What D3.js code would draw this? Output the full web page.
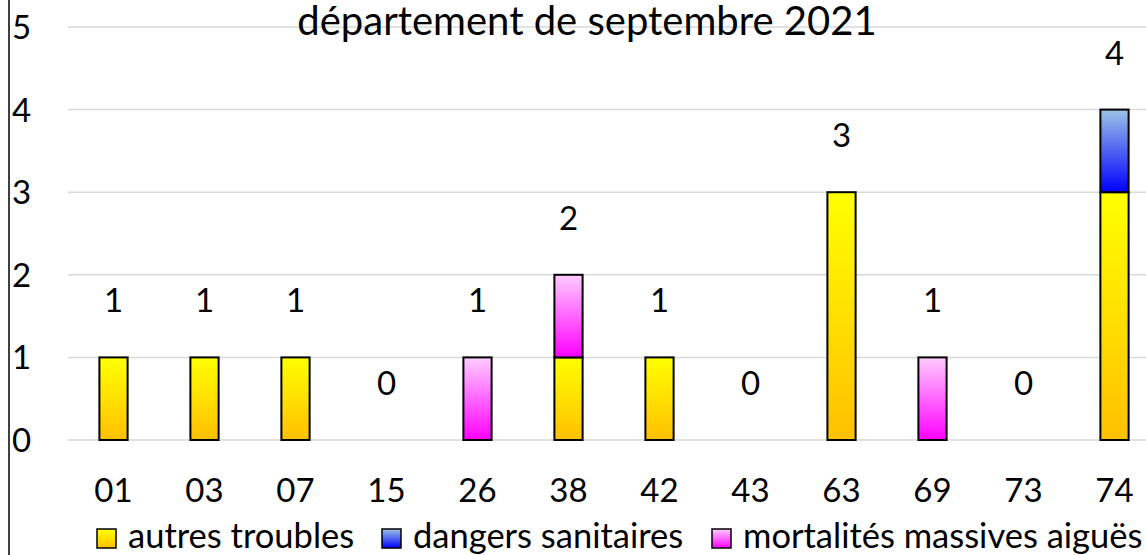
<!DOCTYPE html>
<html>
<head>
<meta charset="utf-8">
<script src="https://cdn.jsdelivr.net/npm/d3@7"></script>
<style>
  body { margin: 0; background: #fff; }
  svg text { font-family: Lato, "Open Sans", sans-serif; fill: #000; }
</style>
</head>
<body>
<svg id="chart" width="1146" height="555"></svg>
<script>
// departements
var departements = ["01", "03", "07", "15", "26", "38", "42", "43", "63", "69", "73", "74"];
// series values, bottom to top of the stack
var autresTroubles = [1, 1, 1, 0, 0, 1, 1, 0, 3, 0, 0, 3];
var dangersSanitaires = [0, 0, 0, 0, 0, 0, 0, 0, 0, 0, 0, 1];
var mortalitesMassives = [0, 0, 0, 0, 1, 1, 0, 0, 0, 1, 0, 0];
var seriesNames = ["autres troubles", "dangers sanitaires", "mortalités massives aiguës"];
var yTicks = [0, 1, 2, 3, 4, 5];
var titre = "département de septembre 2021";

var svg = d3.select("#chart");

var rows = departements.map(function (d, i) {
    return { dep: d, a: autresTroubles[i], b: dangersSanitaires[i], c: mortalitesMassives[i] };
});
var keys = ["a", "b", "c"];
var stacked = d3.stack().keys(keys)(rows);

var x = d3.scaleBand().domain(departements).range([68, 1160]).paddingInner(0.69).paddingOuter(0.345);
var y = d3.scaleLinear().domain([0, 5]).range([440, 27]);

// gradients
var defs = svg.append("defs");
var grads = [
    { id: "g0", top: "#ffff00", bottom: "#ffc000" },
    { id: "g1", top: "#9dc3e6", bottom: "#0000ff" },
    { id: "g2", top: "#ffccff", bottom: "#ff00ff" }
];
grads.forEach(function (g) {
    var lg = defs.append("linearGradient").attr("id", g.id)
        .attr("x1", 0).attr("y1", 0).attr("x2", 0).attr("y2", 1);
    lg.append("stop").attr("offset", "0%").attr("stop-color", g.top);
    lg.append("stop").attr("offset", "100%").attr("stop-color", g.bottom);
});

// left border
svg.append("line").attr("x1", 9).attr("x2", 9).attr("y1", 0).attr("y2", 555)
    .attr("stroke", "#000").attr("stroke-width", 1.5);

// gridlines
svg.append("g").selectAll("line")
    .data(yTicks)
    .enter().append("line")
    .attr("x1", 68).attr("x2", 1146)
    .attr("y1", function (d) { return y(d); })
    .attr("y2", function (d) { return y(d); })
    .attr("stroke", "#d9d9d9").attr("stroke-width", 1.5);

// y labels
svg.append("g").selectAll("text")
    .data(yTicks)
    .enter().append("text")
    .attr("x", 12)
    .attr("y", function (d) { return y(d) + 12; })
    .attr("font-size", 33)
    .text(function (d) { return d; });

// title
svg.append("text").attr("x", 587).attr("y", 35)
    .attr("text-anchor", "middle").attr("font-size", 40)
    .text(titre);

// bars
stacked.forEach(function (layer, k) {
    svg.append("g").selectAll("rect")
        .data(layer.filter(function (d) { return d[1] - d[0] > 0; }))
        .enter().append("rect")
        .attr("x", function (d) { return x(d.data.dep); })
        .attr("width", x.bandwidth())
        .attr("y", function (d) { return y(d[1]); })
        .attr("height", function (d) { return y(d[0]) - y(d[1]); })
        .attr("fill", "url(#g" + k + ")")
        .attr("stroke", "#000").attr("stroke-width", 2);
});

// totals
svg.append("g").selectAll("text")
    .data(rows)
    .enter().append("text")
    .attr("x", function (d) { return x(d.dep) + x.bandwidth() / 2; })
    .attr("y", function (d) { return y(d.a + d.b + d.c) - 45; })
    .attr("text-anchor", "middle").attr("font-size", 33)
    .text(function (d) { return d.a + d.b + d.c; });

// x labels
svg.append("g").selectAll("text")
    .data(departements)
    .enter().append("text")
    .attr("x", function (d) { return x(d) + x.bandwidth() / 2; })
    .attr("y", 502)
    .attr("text-anchor", "middle").attr("font-size", 33)
    .text(function (d) { return d; });

// legend
var legendX = [97, 382, 712];
var legend = svg.append("g").selectAll("g")
    .data(seriesNames)
    .enter().append("g")
    .attr("transform", function (d, i) { return "translate(" + legendX[i] + ",529)"; });
legend.append("rect").attr("width", 19).attr("height", 19)
    .attr("fill", function (d, i) { return "url(#g" + i + ")"; })
    .attr("stroke", "#000").attr("stroke-width", 1.5);
legend.append("text").attr("x", 31).attr("y", 19).attr("font-size", 34.5)
    .text(function (d) { return d; });
</script>
</body>
</html>
